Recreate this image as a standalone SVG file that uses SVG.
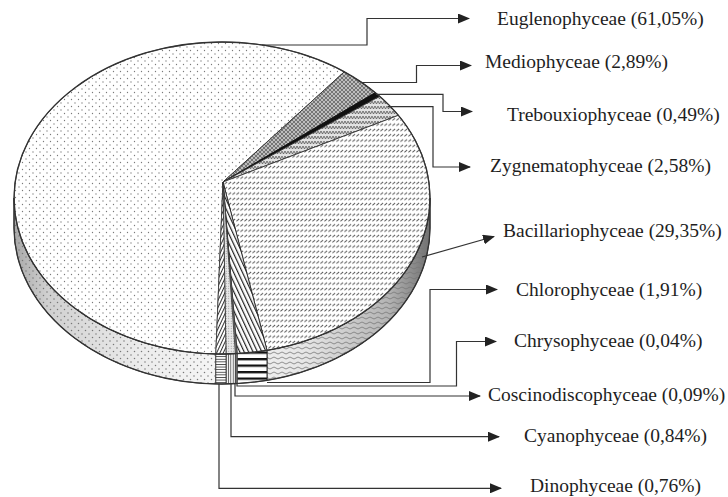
<svg xmlns="http://www.w3.org/2000/svg" width="728" height="497" viewBox="0 0 728 497">
<style>
.lbl{font-family:"Liberation Serif","Times New Roman",serif;font-size:19.5px;fill:#1e1e1e}
.con{fill:none;stroke:#333;stroke-width:1.2;marker-end:url(#ah)}
.rim{fill:none;stroke:#333;stroke-width:1.3}
</style>
<defs>
<marker id="ah" viewBox="0 0 12 10" refX="11" refY="5" markerWidth="12" markerHeight="10" markerUnits="userSpaceOnUse" orient="auto"><path d="M0,0 L12,5 L0,10 Z" fill="#222"/></marker>
<linearGradient id="gSide" gradientUnits="userSpaceOnUse" x1="14" y1="0" x2="430" y2="0">
<stop offset="0" stop-color="#a8a8a8"/><stop offset="0.08" stop-color="#d0d0d0"/><stop offset="0.3" stop-color="#ececec"/><stop offset="0.5" stop-color="#f6f6f6"/><stop offset="0.7" stop-color="#e6e6e6"/><stop offset="0.9" stop-color="#b4b4b4"/><stop offset="1" stop-color="#707070"/>
</linearGradient>
<pattern id="pDots" width="7" height="7" patternUnits="userSpaceOnUse"><rect width="7" height="7" fill="#fff"/><circle cx="1.5" cy="1.5" r="0.65" fill="#7a7a7a"/><circle cx="5" cy="5" r="0.65" fill="#7a7a7a"/></pattern>
<pattern id="pDotsSide" width="7" height="7" patternUnits="userSpaceOnUse"><circle cx="1.5" cy="1.5" r="0.75" fill="#777"/><circle cx="5" cy="5" r="0.75" fill="#777"/></pattern>
<pattern id="pCross" width="4" height="4" patternUnits="userSpaceOnUse"><rect width="4" height="4" fill="#bdbdbd"/><path d="M0,0 L4,4 M4,0 L0,4" stroke="#555" stroke-width="0.7"/></pattern>
<pattern id="pZig" width="6" height="5" patternUnits="userSpaceOnUse"><rect width="6" height="5" fill="#e2e2e2"/><path d="M0,1 L1.5,4 L3,1 L4.5,4 L6,1" fill="none" stroke="#555" stroke-width="0.8"/></pattern>
<pattern id="pSlash" width="4" height="5.3" patternUnits="userSpaceOnUse"><rect width="4" height="5.3" fill="#fff"/><path d="M0.4,3.9 L3.1,1.8" stroke="#5a5a5a" stroke-width="1"/></pattern>
<pattern id="pWave" width="8" height="5" patternUnits="userSpaceOnUse"><path d="M0,3 Q2,1 4,3 T8,3" fill="none" stroke="#777" stroke-width="0.8"/></pattern>
<pattern id="pBack" width="4" height="4" patternUnits="userSpaceOnUse" patternTransform="rotate(-25)"><rect width="4" height="4" fill="#fff"/><rect x="0" y="0" width="1.2" height="4" fill="#222"/></pattern>
<pattern id="pFwd" width="3" height="3" patternUnits="userSpaceOnUse" patternTransform="rotate(25)"><rect width="3" height="3" fill="#fff"/><rect x="0" y="0" width="1" height="3" fill="#333"/></pattern>
<pattern id="pGrid" width="2.5" height="2.5" patternUnits="userSpaceOnUse"><rect width="2.5" height="2.5" fill="#e8e8e8"/><circle cx="1.2" cy="1.2" r="0.5" fill="#888"/></pattern>
<pattern id="pHThick" width="6.5" height="6.5" patternUnits="userSpaceOnUse" y="358"><rect width="6.5" height="6.5" fill="#fff"/><rect y="0" width="6.5" height="2.3" fill="#111"/></pattern>
<pattern id="pHThin" width="3" height="2.6" patternUnits="userSpaceOnUse"><rect width="3" height="2.6" fill="#fff"/><rect width="3" height="0.9" fill="#444"/></pattern>
<pattern id="pVThin" width="2.4" height="3" patternUnits="userSpaceOnUse"><rect width="2.4" height="3" fill="#f2f2f2"/><rect width="0.8" height="3" fill="#555"/></pattern>
</defs>

<g id="euglenophyceae">
<path d="M215.8,354 L215.8,384 A208,156 0 0 1 14,228 L14,198 A208,156 0 0 0 215.8,354 Z" fill="url(#gSide)"/>
<path d="M215.8,354 L215.8,384 A208,156 0 0 1 14,228 L14,198 A208,156 0 0 0 215.8,354 Z" fill="url(#pDotsSide)" stroke="#333" stroke-width="0.9"/>
<path d="M223,182 L215.8,354 A208,156 0 1 1 344.3,71.8 Z" fill="url(#pDots)" stroke="#333" stroke-width="0.9"/>
<text class="lbl" x="497" y="24.5">Euglenophyceae (61,05%)</text>
</g>
<g id="mediophyceae">
<path d="M223,182 L344.3,71.8 A208,156 0 0 1 375.4,92.6 Z" fill="url(#pCross)" stroke="#333" stroke-width="0.9"/>
<text class="lbl" x="485" y="68">Mediophyceae (2,89%)</text>
</g>
<g id="trebouxiophyceae">
<path d="M223,182 L375.4,92.6 A208,156 0 0 1 379.7,96.3 Z" fill="#111" stroke="#111" stroke-width="0.9"/>
<text class="lbl" x="507" y="120.5">Trebouxiophyceae (0,49%)</text>
</g>
<g id="zygnematophyceae">
<path d="M223,182 L379.7,96.3 A208,156 0 0 1 398.4,115.3 Z" fill="url(#pZig)" stroke="#333" stroke-width="0.9"/>
<text class="lbl" x="490" y="172">Zygnematophyceae (2,58%)</text>
</g>
<g id="bacillariophyceae">
<path d="M430,198 L430,228 A208,156 0 0 1 267,380.3 L267,350.3 A208,156 0 0 0 430,198 Z" fill="url(#gSide)"/>
<path d="M430,198 L430,228 A208,156 0 0 1 267,380.3 L267,350.3 A208,156 0 0 0 430,198 Z" fill="url(#pWave)" stroke="#333" stroke-width="0.9"/>
<path d="M223,182 L398.4,115.3 A208,156 0 0 1 267,350.3 Z" fill="url(#pSlash)" stroke="#333" stroke-width="0.9"/>
<text class="lbl" x="503" y="236.5">Bacillariophyceae (29,35%)</text>
</g>
<g id="chlorophyceae">
<path d="M267,350.3 L267,380.3 A208,156 0 0 1 237.2,383.6 L237.2,353.6 A208,156 0 0 0 267,350.3 Z" fill="url(#pHThick)" stroke="#222" stroke-width="0.9"/>
<path d="M223,182 L267,350.3 A208,156 0 0 1 237.2,353.6 Z" fill="url(#pBack)" stroke="#222" stroke-width="0.9"/>
<text class="lbl" x="516" y="295.5">Chlorophyceae (1,91%)</text>
</g>
<g id="chrysophyceae">
<path d="M237.2,353.6 L237.2,383.6 L236.5,383.6 L236.5,353.6 Z" fill="#999" stroke="#333" stroke-width="0.5"/>
<path d="M223,182 L237.2,353.6 L236.5,353.6 Z" fill="#888" stroke="#333" stroke-width="0.6"/>
<text class="lbl" x="514" y="347">Chrysophyceae (0,04%)</text>
</g>
<g id="coscinodiscophyceae">
<path d="M236.5,353.6 L236.5,383.6 L235.4,383.7 L235.4,353.7 Z" fill="#ddd" stroke="#333" stroke-width="0.5"/>
<path d="M223,182 L236.5,353.6 L235.4,353.7 Z" fill="#ccc" stroke="#333" stroke-width="0.6"/>
<text class="lbl" x="488" y="400.5">Coscinodiscophyceae (0,09%)</text>
</g>
<g id="cyanophyceae">
<path d="M235.4,353.7 L235.4,383.7 A208,156 0 0 1 226,384 L226,354 A208,156 0 0 0 235.4,353.7 Z" fill="url(#pVThin)" stroke="#333" stroke-width="0.8"/>
<path d="M223,182 L235.4,353.7 A208,156 0 0 1 226,354 Z" fill="url(#pGrid)" stroke="#333" stroke-width="0.8"/>
<text class="lbl" x="524" y="441.5">Cyanophyceae (0,84%)</text>
</g>
<g id="dinophyceae">
<path d="M226,354 L226,384 A208,156 0 0 1 215.8,384 L215.8,354 A208,156 0 0 0 226,354 Z" fill="url(#pHThin)" stroke="#333" stroke-width="0.8"/>
<path d="M223,182 L226,354 A208,156 0 0 1 215.8,354 Z" fill="url(#pFwd)" stroke="#333" stroke-width="0.8"/>
<text class="lbl" x="530" y="491.5">Dinophyceae (0,76%)</text>
</g>

<g id="outline">
<path class="rim" d="M14,198 A208,156 0 0 1 430,198 A208,156 0 0 1 14,198 Z"/>
<path class="rim" d="M14,198 L14,228 A208,156 0 0 0 430,228 L430,198"/>
</g>

<g id="connectors">
<polyline class="con" points="262,45 367,45 367,18.5 469,18.5"/>
<polyline class="con" points="362,82.5 416.5,82.5 416.5,65.5 471,65.5"/>
<polyline class="con" points="376,94.3 443,94.3 443,111.5 472,111.5"/>
<polyline class="con" points="388,106.7 433,106.7 433,167 470,167"/>
<polyline class="con" points="422,257 494,236.5"/>
<polyline class="con" points="267,382.5 430,382.5 430,289.5 497,289.5"/>
<polyline class="con" points="237,384 237,386 456.5,386 456.5,341.5 496,341.5"/>
<polyline class="con" points="235,384 235,396 480,396"/>
<polyline class="con" points="231,384 231,436.7 499,436.7"/>
<polyline class="con" points="219,384 219,488.3 501,488.3"/>
</g>
</svg>
